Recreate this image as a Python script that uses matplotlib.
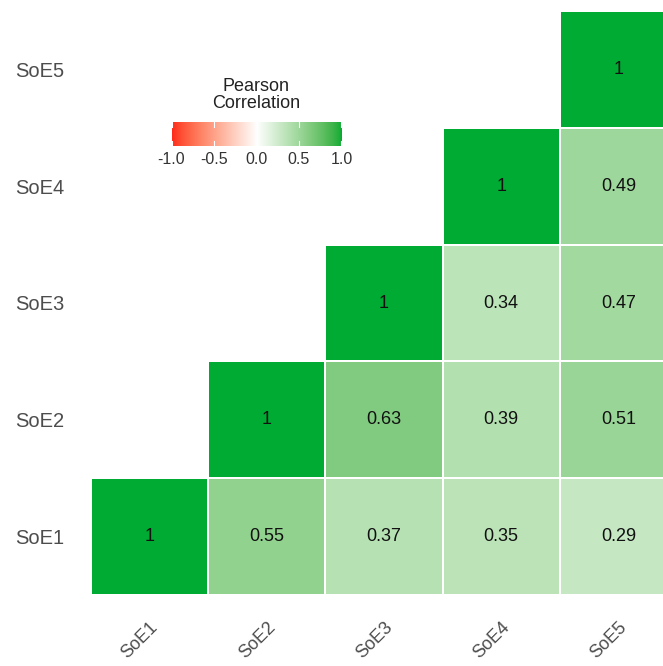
import numpy as np
import matplotlib
matplotlib.use("Agg")
import matplotlib.pyplot as plt
from matplotlib.colors import ListedColormap, to_rgb

plt.rcParams["font.family"] = ["Liberation Sans", "DejaVu Sans"]

labels = ["SoE1", "SoE2", "SoE3", "SoE4", "SoE5"]
# upper-triangle pairs (row i, col j) -> correlation
pairs = {(0, 1): 0.55, (0, 2): 0.37, (0, 3): 0.35, (0, 4): 0.29,
         (1, 2): 0.63, (1, 3): 0.39, (1, 4): 0.51,
         (2, 3): 0.34, (2, 4): 0.47,
         (3, 4): 0.49}
cbar_ticks = [-1.0, -0.5, 0.0, 0.5, 1.0]

low_color = "#FF2A1A"
high_color = "#00AB33"

# --- Lab interpolation like ggplot's gradient2 ---
M = np.array([[0.4124, 0.3576, 0.1805], [0.2126, 0.7152, 0.0722], [0.0193, 0.1192, 0.9505]])
WP = np.array([0.95047, 1.0, 1.08883])

def srgb_to_lab(rgb):
    rgb = np.asarray(rgb, float)
    lin = np.where(rgb <= 0.04045, rgb / 12.92, ((rgb + 0.055) / 1.055) ** 2.4)
    t = (M @ lin) / WP
    f = np.where(t > (6/29) ** 3, np.cbrt(t), t / (3 * (6/29) ** 2) + 4/29)
    return np.array([116 * f[1] - 16, 500 * (f[0] - f[1]), 200 * (f[1] - f[2])])

def lab_to_srgb(lab):
    L, a, b = lab
    fy = (L + 16) / 116
    fx = fy + a / 500
    fz = fy - b / 200
    def finv(f):
        return f ** 3 if f > 6/29 else 3 * (6/29) ** 2 * (f - 4/29)
    xyz = WP * np.array([finv(fx), finv(fy), finv(fz)])
    lin = np.clip(np.linalg.inv(M) @ xyz, 0, 1)
    rgb = np.where(lin <= 0.0031308, 12.92 * lin, 1.055 * lin ** (1/2.4) - 0.055)
    return np.clip(rgb, 0, 1)

lab_lo = srgb_to_lab(to_rgb(low_color))
lab_mid = srgb_to_lab((1, 1, 1))
lab_hi = srgb_to_lab(to_rgb(high_color))
cols = []
for v in np.linspace(-1, 1, 256):
    if v < 0:
        lab = lab_mid + (-v) * (lab_lo - lab_mid)
    else:
        lab = lab_mid + v * (lab_hi - lab_mid)
    cols.append(lab_to_srgb(lab))
cmap = ListedColormap(cols)

n = len(labels)
mat = np.full((n, n), np.nan)
for i in range(n):
    mat[i, i] = 1.0
for (i, j), v in pairs.items():
    mat[i, j] = v

W, H = 663, 666
fig = plt.figure(figsize=(W / 100, H / 100), dpi=100)
ax = fig.add_axes([91 / W, 1 - 595 / H, 586 / W, 584 / H])
masked = np.ma.masked_invalid(mat)
ax.pcolormesh(np.arange(n + 1) - 0.5, np.arange(n + 1) - 0.5, masked,
              cmap=cmap, vmin=-1, vmax=1, edgecolors="white", linewidth=1.2)
for i in range(n):
    for j in range(n):
        if not np.isnan(mat[i, j]):
            v = mat[i, j]
            txt = "1" if v == 1 else f"{v:.2f}"
            ax.text(j, i, txt, ha="center", va="center", fontsize=13, color="#111111")
ax.set_xlim(-0.5, n - 0.5)
ax.set_ylim(-0.5, n - 0.5)
ax.set_xticks(range(n))
ax.set_yticks(range(n))
ax.set_xticklabels(labels, rotation=45, ha="right", va="top", rotation_mode="anchor",
                   fontsize=13, color="#4D4D4D")
ax.set_yticklabels(labels, fontsize=14.5, color="#4D4D4D")
ax.tick_params(length=0, pad=19, axis="y")
ax.tick_params(length=0, pad=17, axis="x")
for s in ax.spines.values():
    s.set_visible(False)

# legend colorbar
cax = fig.add_axes([169 / W, 1 - 146 / H, 175 / W, 24 / H])
grad = np.linspace(-1, 1, 256)[None, :]
cax.imshow(grad, cmap=cmap, vmin=-1, vmax=1, aspect="auto", extent=[-1, 1, 0, 1])
for t in cbar_ticks:
    cax.plot([t, t], [0, 0.2], color="white", lw=0.8)
    cax.plot([t, t], [0.8, 1], color="white", lw=0.8)
cax.set_xlim(-1.03, 1.03)
cax.set_ylim(0, 1)
cax.set_yticks([])
cax.set_xticks(cbar_ticks)
cax.set_xticklabels([f"{t:.1f}" for t in cbar_ticks], fontsize=11.5, color="#333333")
cax.tick_params(length=0, pad=4)
for s in cax.spines.values():
    s.set_visible(False)
fig.text(256 / W, 1 - 95 / H, "Pearson\nCorrelation", ha="center", va="center",
         fontsize=13, color="#222222", linespacing=1.05)

fig.savefig("out.png", dpi=100)
